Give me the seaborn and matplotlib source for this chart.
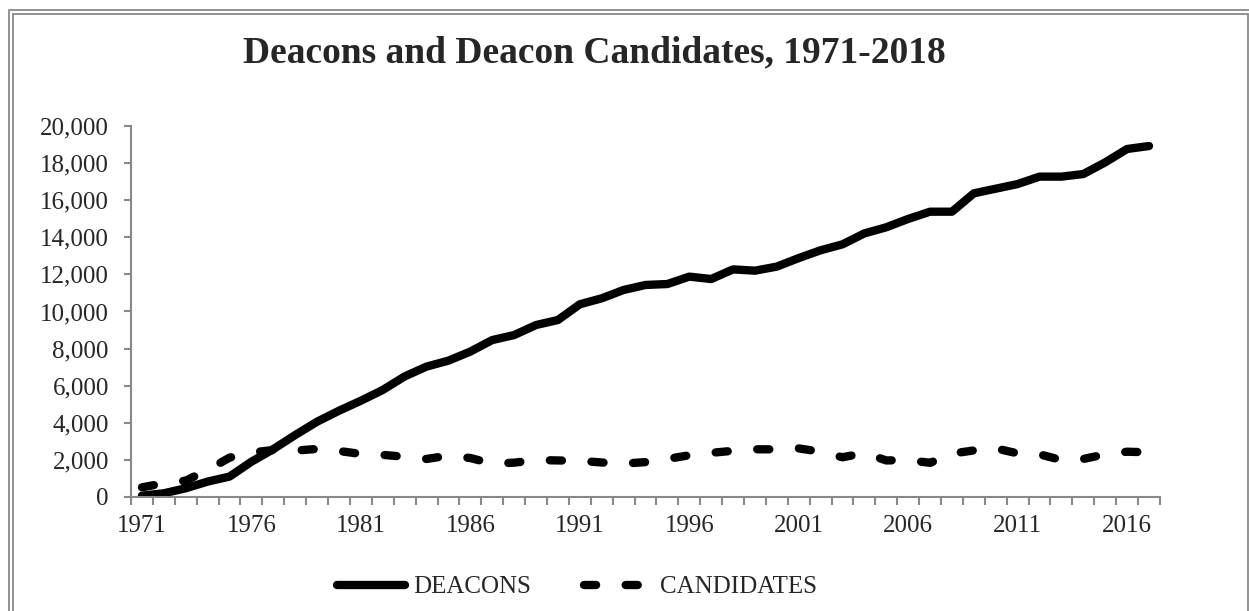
import pandas as pd
import numpy as np
import matplotlib
matplotlib.use('Agg')
import matplotlib.pyplot as plt
from matplotlib.patches import Rectangle
from matplotlib.ticker import FuncFormatter, MultipleLocator
import seaborn as sns

years = list(range(1971, 2018))
deacons = [70, 200, 470, 830, 1100, 1900, 2580, 3340, 4060, 4650,
           5190, 5770, 6500, 7030, 7350, 7840, 8460, 8730, 9270, 9540,
           10390, 10710, 11160, 11430, 11480, 11880, 11750, 12270, 12200, 12420,
           12880, 13300, 13620, 14210, 14540, 14990, 15380, 15380, 16370, 16620,
           16870, 17270, 17270, 17410, 18040, 18760, 18920]
candidates = [520, 740, 880, 1460, 2120, 2400, 2530, 2500, 2590, 2480,
              2320, 2270, 2170, 2050, 2230, 2100, 1800, 1850, 1990, 1970,
              1950, 1860, 1800, 1880, 2050, 2250, 2380, 2490, 2570, 2570,
              2620, 2440, 2140, 2370, 1970, 1990, 1840, 2340, 2510, 2620,
              2350, 2300, 1990, 2050, 2300, 2440, 2410]
label_years = list(range(1971, 2018, 5))
title = 'Deacons and Deacon Candidates, 1971-2018'

df = pd.DataFrame({
    'year': years * 2,
    'count': deacons + candidates,
    'series': ['DEACONS'] * len(years) + ['CANDIDATES'] * len(years),
})

sns.set_style('white')
plt.rcParams['font.family'] = ['Liberation Serif', 'DejaVu Serif']

fig = plt.figure(figsize=(12.49, 6.11), dpi=100)
ax = fig.add_axes([0.1049, 0.1866, 0.8238, 0.6072])

sns.lineplot(data=df, x='year', y='count', style='series',
             style_order=['DEACONS', 'CANDIDATES'],
             dashes={'DEACONS': '', 'CANDIDATES': (1.45, 3.55)},
             color='black', linewidth=6, errorbar=None, legend=False,
             solid_capstyle='round', dash_capstyle='round',
             solid_joinstyle='round', dash_joinstyle='round', ax=ax)

grey = '#898989'
ax.set_xlim(1970.5, 2017.5)
ax.set_ylim(0, 20000)
ax.set_xlabel('')
ax.set_ylabel('')
for s in ['top', 'right']:
    ax.spines[s].set_visible(False)
for s in ['left', 'bottom']:
    ax.spines[s].set_color(grey)
    ax.spines[s].set_linewidth(1.5)

ax.set_yticks(range(0, 20001, 2000))
ax.yaxis.set_major_formatter(FuncFormatter(lambda v, p: f'{v:,.0f}'))
ax.tick_params(axis='y', direction='out', length=5, width=1.5, color=grey,
               labelsize=18, pad=11, left=True)
ax.set_xticks(label_years)
ax.set_xticklabels([str(y) for y in label_years])
ax.xaxis.set_minor_locator(MultipleLocator(1, offset=0.5))
ax.tick_params(axis='x', which='major', length=0, labelsize=18, pad=13)
ax.tick_params(axis='x', which='minor', direction='out', length=5.5, width=1.5,
               color=grey, bottom=True)

fig.text(0.4756, 0.897, title, ha='center', va='baseline',
         fontsize=27, fontweight='bold')

handles = ax.get_lines()[:2]
fig.legend(handles, ['DEACONS', 'CANDIDATES'], loc='center',
           bbox_to_anchor=(0.462, 0.039), ncol=2, frameon=False,
           fontsize=18, handlelength=2.7, handletextpad=0.35,
           columnspacing=2.1)

# double border around the chart
for (x0, y0, x1, y1) in [(8.5, 9.5, 1252, 640), (12.5, 14, 1247.5, 636)]:
    fig.add_artist(Rectangle((x0 / 1249, 1 - y1 / 611), (x1 - x0) / 1249,
                             (y1 - y0) / 611, transform=fig.transFigure,
                             fill=False, edgecolor=grey, linewidth=1.3))

fig.savefig('out.png', dpi=100)
